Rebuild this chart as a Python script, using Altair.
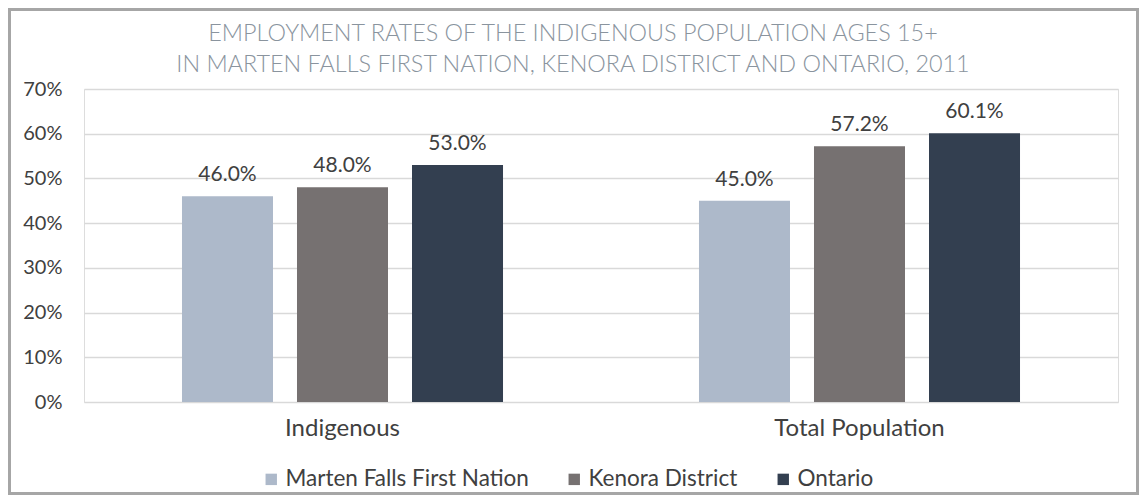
import altair as alt
import pandas as pd

groups = ["Indigenous", "Total Population"]
regions = ["Marten Falls First Nation", "Kenora District", "Ontario"]
values = {
    "Indigenous": [0.460, 0.480, 0.530],
    "Total Population": [0.450, 0.572, 0.601],
}
colors = ["#ADB9CA", "#767171", "#333F50"]
y_ticks = [0.0, 0.1, 0.2, 0.3, 0.4, 0.5, 0.6, 0.7]
title_lines = [
    "EMPLOYMENT RATES OF THE INDIGENOUS POPULATION AGES 15+",
    "IN MARTEN FALLS FIRST NATION, KENORA DISTRICT AND ONTARIO, 2011",
]

rows = []
for g in groups:
    for r, v in zip(regions, values[g]):
        rows.append({"group": g, "region": r, "value": v})
df = pd.DataFrame(rows)

FONT = "Lato"
TXT = "#404040"
W, H = 1034, 313
PL, PT, PR, PB = 76, 81, 21, 93

x = alt.X("group:N", sort=groups, title=None,
          scale=alt.Scale(paddingInner=0, paddingOuter=0),
          axis=alt.Axis(labelAngle=0, ticks=False, domain=False, labelPadding=14,
                        labelFontSize=24, labelColor=TXT, labelFont=FONT))
xo = alt.XOffset("region:N", sort=regions,
                 scale=alt.Scale(paddingInner=0.2087, paddingOuter=0.852))
y = alt.Y("value:Q", title=None,
          scale=alt.Scale(domain=[0, 0.7], nice=False),
          axis=alt.Axis(values=y_ticks, format=".0%", ticks=False, domain=False,
                        labelPadding=22, labelFontSize=20, labelColor=TXT,
                        labelFont=FONT, gridColor="#D9D9D9", gridWidth=1.5))
color = alt.Color("region:N", sort=regions,
                  scale=alt.Scale(domain=regions, range=colors),
                  legend=alt.Legend(title=None, orient="none", direction="horizontal",
                                    legendX=176, legendY=379, symbolType="square",
                                    symbolSize=130, symbolStrokeWidth=0,
                                    labelFontSize=22.5, labelColor=TXT, labelFont=FONT,
                                    labelLimit=400,
                                    labelOffset=3, columnPadding=34, padding=0))

base = alt.Chart(df)
bars = base.mark_bar().encode(x=x, xOffset=xo, y=y, color=color)
labels = base.mark_text(baseline="alphabetic", dy=-15, fontSize=21, font=FONT,
                        color=TXT).encode(
    x=x, xOffset=xo, y=y, text=alt.Text("value:Q", format=".1%"))
border = base.mark_rect(fill=None, stroke="#A6A6A6", strokeWidth=3).encode(
    x=alt.value(-PL + 1.5), x2=alt.value(W + PR - 1.5),
    y=alt.value(-PT + 1.5), y2=alt.value(H + PB - 1.5))

chart = alt.layer(border, bars, labels).properties(
    width=W, height=H,
    autosize=alt.AutoSizeParams(type="none"),
    padding={"left": PL, "top": PT, "right": PR, "bottom": PB},
    title=alt.TitleParams(title_lines, anchor="middle", dx=-28, fontSize=23.4,
                          font=FONT, fontWeight=300, color="#8A949E",
                          lineHeight=31, offset=-69),
).configure_view(stroke=None).configure(background="white")

chart.save("out.html", embed_options={"renderer": "svg", "actions": False})
